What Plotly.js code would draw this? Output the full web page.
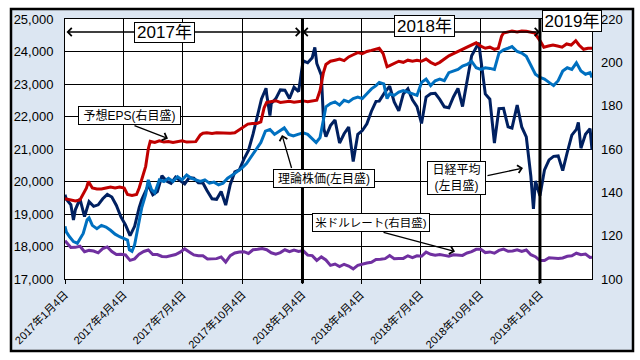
<!DOCTYPE html>
<html>
<head>
<meta charset="utf-8">
<script src="https://cdn.plot.ly/plotly-3.0.1.min.js"></script>
<style>html,body{margin:0;padding:0;background:#fff;}#chart{width:640px;height:360px;}</style>
</head>
<body>
<div id="chart"></div>
<script>
// ---- Data ----
const nikkeiDates = ["2017-01-04","2017-01-06","2017-01-13","2017-01-17","2017-01-20","2017-01-27","2017-02-03","2017-02-10","2017-02-17","2017-02-24","2017-03-03","2017-03-10","2017-03-17","2017-03-24","2017-03-31","2017-04-07","2017-04-14","2017-04-21","2017-04-28","2017-05-02","2017-05-12","2017-05-19","2017-05-26","2017-06-02","2017-06-09","2017-06-16","2017-06-23","2017-06-30","2017-07-07","2017-07-14","2017-07-21","2017-07-28","2017-08-04","2017-08-10","2017-08-18","2017-08-25","2017-09-01","2017-09-08","2017-09-15","2017-09-22","2017-09-29","2017-10-06","2017-10-13","2017-10-20","2017-10-27","2017-11-02","2017-11-09","2017-11-10","2017-11-15","2017-11-17","2017-11-24","2017-12-01","2017-12-08","2017-12-15","2017-12-22","2017-12-29","2018-01-05","2018-01-12","2018-01-19","2018-01-23","2018-01-26","2018-02-02","2018-02-06","2018-02-09","2018-02-16","2018-02-23","2018-03-02","2018-03-09","2018-03-16","2018-03-23","2018-03-30","2018-04-06","2018-04-13","2018-04-20","2018-04-27","2018-05-02","2018-05-11","2018-05-18","2018-05-25","2018-06-01","2018-06-08","2018-06-15","2018-06-22","2018-06-29","2018-07-06","2018-07-13","2018-07-20","2018-07-27","2018-08-03","2018-08-10","2018-08-17","2018-08-24","2018-08-31","2018-09-07","2018-09-14","2018-09-21","2018-09-28","2018-10-02","2018-10-05","2018-10-12","2018-10-19","2018-10-26","2018-11-02","2018-11-09","2018-11-16","2018-11-22","2018-11-30","2018-12-07","2018-12-14","2018-12-21","2018-12-25","2018-12-28","2019-01-04","2019-01-11","2019-01-18","2019-01-25","2019-02-01","2019-02-08","2019-02-15","2019-02-22","2019-03-01","2019-03-04","2019-03-08","2019-03-15","2019-03-22","2019-03-25"];
const nikkeiValues = [19594,19454,19287,18813,19137,19467,18918,19378,19235,19283,19469,19604,19521,19262,18909,18665,18335,18620,19197,19445,19883,19590,19687,20177,20013,19943,20132,20033,19929,20118,20099,19959,19952,19729,19470,19452,19691,19274,19909,20296,20356,20690,20954,21457,22008,22539,22869,22681,22028,22397,22550,22819,22811,22553,22902,22765,23715,23653,23808,24124,23632,23274,21610,21383,21720,21892,21182,21469,21676,20617,21454,21567,21778,22162,22467,22473,22758,22930,22450,22171,22694,22851,22516,22305,21788,22597,22698,22712,22525,22298,22270,22601,22865,22307,23094,23870,24120,24270,23784,22694,22532,21184,22243,22250,21680,21646,22351,21679,21374,20166,19155,20015,19561,20359,20666,20773,20788,20333,20900,21426,21602,21822,21025,21451,21627,20977];

const theoDates = ["2017-01-04","2017-01-06","2017-01-11","2017-01-17","2017-01-23","2017-01-27","2017-02-01","2017-02-07","2017-02-10","2017-02-15","2017-02-22","2017-03-01","2017-03-08","2017-03-15","2017-03-22","2017-03-29","2017-04-05","2017-04-10","2017-04-13","2017-04-17","2017-04-21","2017-04-27","2017-05-02","2017-05-08","2017-05-12","2017-05-17","2017-05-22","2017-05-29","2017-06-05","2017-06-12","2017-06-19","2017-06-26","2017-07-03","2017-07-10","2017-07-17","2017-07-24","2017-07-31","2017-08-07","2017-08-14","2017-08-21","2017-08-28","2017-09-04","2017-09-11","2017-09-22","2017-10-02","2017-10-10","2017-10-18","2017-10-25","2017-11-01","2017-11-08","2017-11-15","2017-11-22","2017-11-30","2017-12-07","2017-12-14","2017-12-21","2017-12-28","2018-01-05","2018-01-12","2018-01-19","2018-01-25","2018-01-31","2018-02-05","2018-02-09","2018-02-16","2018-02-23","2018-03-02","2018-03-09","2018-03-16","2018-03-23","2018-03-30","2018-04-06","2018-04-13","2018-04-20","2018-04-27","2018-05-02","2018-05-09","2018-05-14","2018-05-18","2018-05-25","2018-06-01","2018-06-08","2018-06-15","2018-06-22","2018-06-29","2018-07-06","2018-07-13","2018-07-20","2018-07-27","2018-08-03","2018-08-10","2018-08-17","2018-08-24","2018-08-31","2018-09-07","2018-09-14","2018-09-21","2018-09-28","2018-10-05","2018-10-12","2018-10-19","2018-10-26","2018-11-02","2018-11-09","2018-11-16","2018-11-22","2018-11-30","2018-12-07","2018-12-14","2018-12-21","2018-12-28","2019-01-04","2019-01-11","2019-01-18","2019-01-25","2019-02-01","2019-02-08","2019-02-15","2019-02-22","2019-03-01","2019-03-08","2019-03-15","2019-03-22","2019-03-25"];
const theoValues = [18620,18450,18300,18150,18100,18250,18400,18820,18880,18650,18550,18650,18600,18500,18380,18300,18250,18200,17900,17850,18050,18700,19200,19600,20050,19750,19650,20050,20000,20100,20000,20150,20050,20200,20100,20050,20000,20050,19950,19980,19900,19950,20100,20250,20400,20550,20800,21000,21200,21550,21600,21450,21550,21650,21450,21400,21450,21500,21450,21300,21200,21350,21900,22300,22400,22450,22350,22500,22450,22550,22600,22550,22700,22850,22950,23050,23000,22550,22700,22650,22750,22800,22750,22700,22650,23050,23150,22950,23100,23150,23100,23350,23400,23450,23550,23600,23700,23500,23450,23500,23480,23450,23950,24050,24100,24150,24000,23950,23850,23550,23300,23200,23150,23050,22950,23100,23400,23500,23450,23650,23400,23300,23350,23200];

const epsDates = ["2017-01-04","2017-01-12","2017-01-20","2017-01-27","2017-02-01","2017-02-06","2017-02-09","2017-02-15","2017-02-22","2017-03-01","2017-03-08","2017-03-15","2017-03-22","2017-03-29","2017-04-05","2017-04-10","2017-04-17","2017-04-24","2017-04-28","2017-05-02","2017-05-08","2017-05-12","2017-05-15","2017-05-22","2017-05-29","2017-06-05","2017-06-12","2017-06-19","2017-06-26","2017-07-03","2017-07-10","2017-07-18","2017-07-24","2017-07-31","2017-08-04","2017-08-10","2017-08-18","2017-08-25","2017-09-01","2017-09-08","2017-09-15","2017-09-22","2017-09-29","2017-10-05","2017-10-12","2017-10-19","2017-10-26","2017-11-01","2017-11-06","2017-11-10","2017-11-17","2017-11-24","2017-12-01","2017-12-08","2017-12-15","2017-12-22","2017-12-29","2018-01-05","2018-01-12","2018-01-19","2018-01-26","2018-01-31","2018-02-05","2018-02-09","2018-02-16","2018-02-23","2018-03-02","2018-03-09","2018-03-16","2018-03-23","2018-03-30","2018-04-06","2018-04-13","2018-04-20","2018-04-27","2018-05-02","2018-05-08","2018-05-14","2018-05-18","2018-05-25","2018-06-01","2018-06-08","2018-06-15","2018-06-22","2018-06-29","2018-07-06","2018-07-13","2018-07-20","2018-07-27","2018-08-03","2018-08-10","2018-08-17","2018-08-24","2018-08-31","2018-09-07","2018-09-14","2018-09-21","2018-09-28","2018-10-05","2018-10-12","2018-10-19","2018-10-26","2018-11-01","2018-11-06","2018-11-09","2018-11-16","2018-11-22","2018-11-30","2018-12-07","2018-12-14","2018-12-21","2018-12-27","2019-01-04","2019-01-10","2019-01-17","2019-01-24","2019-01-31","2019-02-07","2019-02-14","2019-02-21","2019-02-28","2019-03-05","2019-03-12","2019-03-19","2019-03-25"];
const epsValues = [137,136.5,136,136.5,139,142,145,142,141.5,141.5,142,142.5,142,142.5,142,139,138.5,139,142,146,152,160,163.5,163,163.8,163.2,163.5,163,163.5,163.8,163.2,163.5,163.4,166.5,167.3,167.5,167.2,167.5,167.4,167.6,167.3,167.5,169,170.3,171.5,171.8,171.8,172.5,179,181.5,181.8,182.3,181.5,181.8,182,181.6,182,182.2,181.8,182,182.5,187,195,199,200.5,201,201.5,200.8,202.5,203.5,204.5,204,205,205.5,206,206.5,204,198,198.5,199.5,200.5,200,201,200.5,201,200.5,201.5,200,199,200,201.5,203,204,205,206,207,208,209,207.5,206.5,207,206,206.5,212,213.5,214,214.5,214,214.5,214.3,214,213.5,210,207,207.5,208,207.5,207,208.5,208,210,208,206,206.5,206.5];

const usdDates = ["2017-01-04","2017-01-06","2017-01-13","2017-01-20","2017-01-27","2017-02-03","2017-02-10","2017-02-17","2017-02-24","2017-03-03","2017-03-10","2017-03-17","2017-03-24","2017-03-31","2017-04-07","2017-04-14","2017-04-21","2017-04-28","2017-05-05","2017-05-12","2017-05-19","2017-05-26","2017-06-02","2017-06-09","2017-06-16","2017-06-23","2017-06-30","2017-07-07","2017-07-14","2017-07-21","2017-07-28","2017-08-04","2017-08-11","2017-08-18","2017-08-25","2017-09-01","2017-09-08","2017-09-15","2017-09-22","2017-09-29","2017-10-06","2017-10-13","2017-10-20","2017-10-27","2017-11-03","2017-11-10","2017-11-17","2017-11-24","2017-12-01","2017-12-08","2017-12-15","2017-12-22","2017-12-29","2018-01-05","2018-01-12","2018-01-19","2018-01-26","2018-02-02","2018-02-09","2018-02-16","2018-02-23","2018-03-02","2018-03-09","2018-03-16","2018-03-23","2018-03-30","2018-04-06","2018-04-13","2018-04-20","2018-04-27","2018-05-04","2018-05-11","2018-05-18","2018-05-25","2018-06-01","2018-06-08","2018-06-15","2018-06-22","2018-06-29","2018-07-06","2018-07-13","2018-07-20","2018-07-27","2018-08-03","2018-08-10","2018-08-17","2018-08-24","2018-08-31","2018-09-07","2018-09-14","2018-09-21","2018-09-28","2018-10-05","2018-10-12","2018-10-19","2018-10-26","2018-11-02","2018-11-09","2018-11-16","2018-11-23","2018-11-30","2018-12-07","2018-12-14","2018-12-21","2018-12-28","2019-01-04","2019-01-11","2019-01-18","2019-01-25","2019-02-01","2019-02-08","2019-02-15","2019-02-22","2019-03-01","2019-03-08","2019-03-15","2019-03-22","2019-03-25"];
const usdValues = [117.7,116.9,114.5,114.6,115.1,112.6,113.2,112.9,112.1,114.0,114.8,112.7,111.3,111.4,111.1,108.6,109.3,111.5,112.7,113.4,111.3,111.3,110.4,110.3,110.9,111.3,112.4,113.9,112.5,111.1,110.7,110.7,109.2,109.2,109.4,110.2,107.8,110.8,112.0,112.5,112.6,111.8,113.5,113.7,114.1,113.5,112.1,111.5,112.2,113.5,112.6,113.3,112.7,113.1,111.0,110.8,108.6,110.2,108.8,106.3,106.9,105.7,106.8,106.0,104.7,106.3,106.9,107.4,107.7,109.0,109.1,109.4,110.8,109.4,109.5,109.5,110.7,109.9,110.7,110.5,112.4,111.4,111.0,111.3,110.9,110.5,111.2,111.0,110.9,112.0,112.6,113.7,113.7,112.2,112.5,111.9,113.2,113.8,112.8,112.9,113.5,112.7,113.4,111.2,110.3,108.5,108.5,109.8,109.5,109.5,109.7,110.5,110.7,111.9,111.2,111.5,109.9,110.0];

const tickDates = ["2017-01-04","2017-04-04","2017-07-04","2017-10-04","2018-01-04","2018-04-04","2018-07-04","2018-10-04","2019-01-04"];
const tickLabels = ["2017年1月4日","2017年4月4日","2017年7月4日","2017年10月4日","2018年1月4日","2018年4月4日","2018年7月4日","2018年10月4日","2019年1月4日"];
const yearDividers = ["2018-01-04","2019-01-04"];

// ---- Geometry helpers (pixel -> paper) ----
const PL = 65, PR = 592, PT = 19, PB = 279;
const px = X => (X - PL) / (PR - PL);
const py = Y => (PB - Y) / (PB - PT);

const FONT = "Liberation Sans, Arial, 'Noto Sans CJK JP', sans-serif";

const traces = [
  {x: nikkeiDates, y: nikkeiValues, type: 'scatter', mode: 'lines', name: '日経平均', line: {color: '#002060', width: 3}, yaxis: 'y'},
  {x: theoDates, y: theoValues, type: 'scatter', mode: 'lines', name: '理論株価', line: {color: '#0070C0', width: 3}, yaxis: 'y'},
  {x: epsDates, y: epsValues, type: 'scatter', mode: 'lines', name: '予想EPS', line: {color: '#C00000', width: 3}, yaxis: 'y2'},
  {x: usdDates, y: usdValues, type: 'scatter', mode: 'lines', name: '米ドルレート', line: {color: '#7030A0', width: 3}, yaxis: 'y2'}
];

const shapes = [
  {type: 'rect', xref: 'paper', yref: 'paper', x0: px(11), x1: px(633), y0: py(351), y1: py(9), fillcolor: '#DCE6F2', line: {color: '#000', width: 2.5}, layer: 'below'},
  {type: 'rect', xref: 'paper', yref: 'paper', x0: 0, x1: 1, y0: 0, y1: 1, fillcolor: '#FFFFFF', line: {width: 0}, layer: 'below'}
];
yearDividers.forEach(d => shapes.push({type: 'line', xref: 'x', yref: 'paper', x0: d, x1: d, y0: -0.016, y1: 1, line: {color: '#000', width: 3}, layer: 'above'}));

function arrow(x0, y0, x1, y1, both) {
  return {xref: 'paper', yref: 'paper', x: px(x1), y: py(y1), ax: x0 - x1, ay: y0 - y1, axref: 'pixel', ayref: 'pixel',
    text: '', showarrow: true, arrowhead: 4, startarrowhead: 4, arrowside: both ? 'end+start' : 'end',
    arrowsize: 1.2, startarrowsize: 1.2, arrowwidth: 1.3, arrowcolor: '#000', standoff: 0, startstandoff: 0};
}
function box(text, cx, cy, size, w, h) {
  return {xref: 'paper', yref: 'paper', x: px(cx), y: py(cy), xanchor: 'center', yanchor: 'middle', text: text, showarrow: false,
    font: {family: FONT, size: size, color: '#000'}, bgcolor: '#FFFFFF', bordercolor: '#000', borderwidth: 1, borderpad: 1,
    width: w, height: h};
}

const annotations = [
  arrow(65, 32, 301, 32, true),
  arrow(301, 32, 540, 32, true),
  box('2017年', 164.7, 32, 17, 57, 17),
  box('2018年', 424.5, 26, 17, 57, 18),
  box('2019年', 571.7, 21.5, 17, 56, 18),
  arrow(133, 125, 168, 138.5, false),
  box('予想EPS(右目盛)', 129.5, 115.3, 12, 99, 15),
  arrow(292, 169.5, 282, 135, false),
  box('理論株価(左目盛)', 324.2, 178.8, 12, 98, 15),
  arrow(486, 176, 523, 168, false),
  box('日経平均<br>(左目盛)', 456.2, 177.8, 12, 55, 30),
  arrow(382, 232, 455, 251.5, false),
  box('米ドルレート(右目盛)', 371.3, 222.8, 11.5, 114, 15)
];

const layout = {
  width: 640, height: 360,
  margin: {l: PL, r: 640 - PR, t: PT, b: 360 - PB, pad: 0},
  paper_bgcolor: '#FFFFFF', plot_bgcolor: '#FFFFFF',
  showlegend: false,
  font: {family: FONT, color: '#000'},
  xaxis: {type: 'date', range: ['2017-01-04', '2019-03-25'], tickmode: 'array', tickvals: tickDates, ticktext: tickLabels,
    tickangle: -45, tickfont: {size: 11, color: '#000', family: FONT}, showgrid: true, gridcolor: '#000', gridwidth: 1,
    showline: true, linecolor: '#000', linewidth: 1, mirror: true, ticks: 'outside', ticklen: 4, tickcolor: '#000', zeroline: false},
  yaxis: {range: [17000, 25000], dtick: 1000, tick0: 17000, tickformat: ',d', tickfont: {size: 13, color: '#000', family: FONT},
    showgrid: true, gridcolor: '#000', gridwidth: 1, showline: true, linecolor: '#000', linewidth: 1, mirror: true, ticks: '', zeroline: false,
    ticklabelstandoff: 8},
  yaxis2: {range: [100, 220], dtick: 20, tick0: 100, overlaying: 'y', side: 'right', showgrid: false, zeroline: false,
    tickfont: {size: 13, color: '#000', family: FONT}, ticks: '', showline: false, ticklabelstandoff: 8},
  shapes: shapes,
  annotations: annotations
};

Plotly.newPlot('chart', traces, layout, {staticPlot: true, displayModeBar: false});
</script>
</body>
</html>
